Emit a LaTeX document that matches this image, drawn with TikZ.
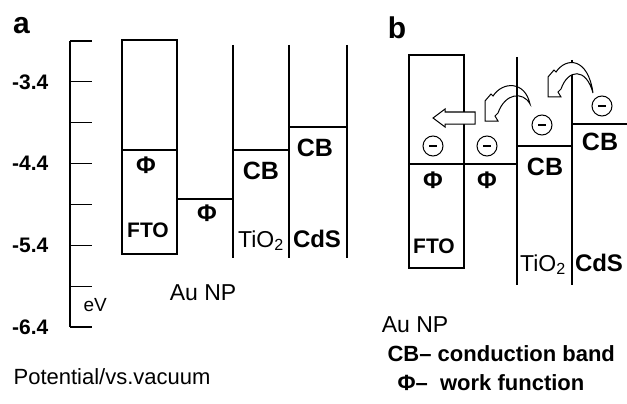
\documentclass[tikz,border=0pt]{standalone}
\usepackage{fontspec}
\setmainfont{Liberation Sans}
\begin{document}
\begin{tikzpicture}[x=1pt, y=-1pt, line width=1.2pt,
    panel/.style={font=\fontsize{30}{30}\selectfont\bfseries, inner sep=0pt},
    tick/.style={font=\fontsize{21}{21}\selectfont\bfseries, inner sep=0pt, anchor=east},
    phi/.style={font=\fontsize{24}{24}\selectfont\bfseries, inner sep=0pt},
    band/.style={font=\fontsize{25}{25}\selectfont\bfseries, inner sep=0pt},
    mat/.style={font=\fontsize{23}{23}\selectfont, inner sep=0pt, anchor=base},
    txt/.style={font=\fontsize{#1}{#1}\selectfont, inner sep=0pt},
    btxt/.style={font=\fontsize{#1}{#1}\selectfont\bfseries, inner sep=0pt},
    electron/.style={circle, draw, line width=1pt, minimum size=20pt, inner sep=0pt},
    pics/curlarrow/.style={code={
        \draw[line width=1pt, fill=white] (0,0) -- (13,0) -- (10,-5) -- (13,-8)
            .. controls (20,-28) and (38,-30) .. (45,#1)
            .. controls (40,-40) and (18,-40) .. (8,-25) -- (6,-27) -- (0,-20) -- cycle;
    }}]

    \useasboundingbox (0,0) rectangle (627,404);

    % Niveaux du panneau a
    \def\phiFTO{150}   % travail de sortie FTO
    \def\phiAu{199}    % travail de sortie Au
    \def\cbTiO{150}    % bande de conduction TiO2
    \def\cbCdS{127}    % bande de conduction CdS

    % ==============================================
    % PANNEAU a : axe des potentiels
    % ==============================================
    \node[panel] (a) at (21.5,25.5) {a};
    \draw (70,41) -- (70,327);
    \foreach \k in {0,...,7} {
        \draw (70,41+\k*40.86) -- (92,41+\k*40.86);
    }
    \foreach \lab [count=\i] in {-3.4,-4.4,-5.4,-6.4} {
        \node[tick] (t\i) at (49,81.86+\i*81.72-81.72) {\lab};
    }
    \node[txt=19, anchor=west] (ev) at (83,305) {eV};

    % Bandes
    \draw (122,40) rectangle (177,254);
    \draw (122,\phiFTO) -- (177,\phiFTO);
    \draw (177,\phiAu) -- (233,\phiAu);
    \draw (233,45) -- (233,258);
    \draw (289,45) -- (289,258);
    \draw (347,45) -- (347,258);
    \draw (233,\cbTiO) -- (289,\cbTiO);
    \draw (289,\cbCdS) -- (347,\cbCdS);

    \node[phi] (phiFa) at (146,165) {Φ};
    \node[phi] (phiAa) at (207,213) {Φ};
    \node[band] (cbTa) at (261,171) {CB};
    \node[band] (cbCa) at (315,148) {CB};
    \node[btxt=21] (ftoa) at (148,230) {FTO};
    \node[mat] (tioa) at (261,247) {TiO\textsubscript{2}};
    \node[mat, font=\fontsize{24}{24}\selectfont\bfseries] (cdsa) at (317,247) {CdS};
    \node[txt=23] (aua) at (203,293) {Au NP};

    \node[txt=22, anchor=west] (pot) at (13,377) {Potential/vs.vacuum};

    % ==============================================
    % PANNEAU b : transfert des electrons
    % ==============================================
    \def\phiB{164}
    \def\cbTiOb{146}
    \def\cbCdSb{124}

    \node[panel] (b) at (397,28) {b};

    \pic at (485,121) {curlarrow=-17};

    \draw (409,55) rectangle (464,268);
    \draw (409,\phiB) -- (517,\phiB);
    \draw (517,57) -- (517,285);
    \draw (517,\cbTiOb) -- (572,\cbTiOb);
    \draw (572,60) -- (572,285);
    \draw (572,\cbCdSb) -- (627,\cbCdSb);

    \pic at (548,97) {curlarrow=-4};

    % Fleche creuse vers le FTO
    \draw[line width=1pt, fill=white] (475,112) -- (445,112) -- (445,109) -- (433,118)
        -- (445,127) -- (445,124) -- (475,124) -- cycle;

    % Electrons
    \foreach \ex/\ey [count=\i] in {433/146, 487/146, 542/125, 602/106} {
        \node[electron] (e\i) at (\ex,\ey) {\rule{8pt}{1.4pt}};
    }

    \node[phi] (phiFb) at (433,180) {Φ};
    \node[phi] (phiAb) at (487,180) {Φ};
    \node[band] (cbTb) at (545,167) {CB};
    \node[band] (cbCb) at (600,142) {CB};
    \node[btxt=21] (ftob) at (434,246) {FTO};
    \node[mat] (tiob) at (543,271) {TiO\textsubscript{2}};
    \node[mat, font=\fontsize{24}{24}\selectfont\bfseries] (cdsb) at (599,271) {CdS};
    \node[txt=23] (aub) at (415,325) {Au NP};

    % Legende
    \node[btxt=22, anchor=west] (leg1) at (387,354) {CB– conduction band};
    \node[btxt=22, anchor=west] (leg2) at (397,383) {Φ–\ \ work function};

\end{tikzpicture}
\end{document}
